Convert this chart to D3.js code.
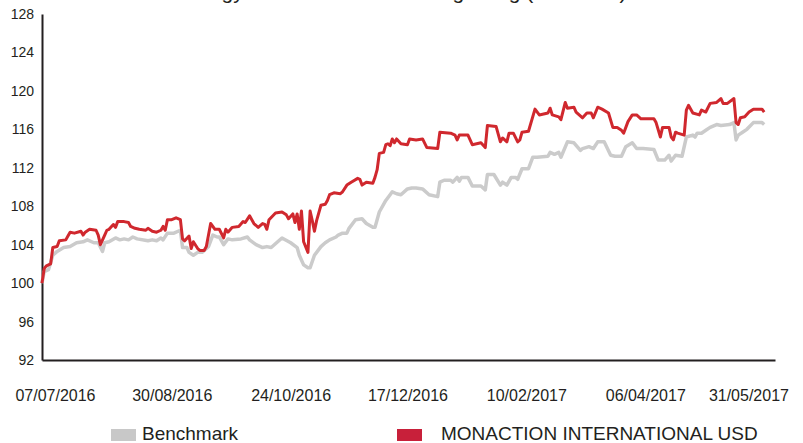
<!DOCTYPE html>
<html>
<head>
<meta charset="utf-8">
<script src="https://cdn.jsdelivr.net/npm/d3@7"></script>
<style>
  body { margin: 0; background: #fff; }
  svg { display: block; font-family: "Liberation Sans", Arial, sans-serif; }
</style>
</head>
<body>
<svg id="chart"></svg>
<script>
// chart values
const title = "Strategy evolution since the beginning (base 100)";
const seriesNames = ["Benchmark", "MONACTION INTERNATIONAL USD"];
const yTicks = [92, 96, 100, 104, 108, 112, 116, 120, 124, 128];
const xTickLabels = ["07/07/2016", "30/08/2016", "24/10/2016", "17/12/2016", "10/02/2017", "06/04/2017", "31/05/2017"];

const fundDates = [
  "2016-07-01","2016-07-02","2016-07-03","2016-07-05","2016-07-06","2016-07-08","2016-07-09","2016-07-12","2016-07-13","2016-07-14",
  "2016-07-16","2016-07-19","2016-07-20","2016-07-21","2016-07-23","2016-07-26","2016-07-27","2016-07-28","2016-07-30","2016-07-31",
  "2016-08-01","2016-08-03","2016-08-04","2016-08-05","2016-08-08","2016-08-10","2016-08-11","2016-08-13","2016-08-15","2016-08-18",
  "2016-08-19","2016-08-21","2016-08-23","2016-08-25","2016-08-26","2016-08-27","2016-08-28","2016-08-30","2016-09-01","2016-09-03",
  "2016-09-04","2016-09-05","2016-09-07","2016-09-08","2016-09-09","2016-09-11","2016-09-12","2016-09-14","2016-09-15","2016-09-17",
  "2016-09-19","2016-09-21","2016-09-23","2016-09-24","2016-09-25","2016-09-27","2016-09-30","2016-10-02","2016-10-03","2016-10-05",
  "2016-10-07","2016-10-09","2016-10-11","2016-10-12","2016-10-13","2016-10-14","2016-10-17","2016-10-20","2016-10-22","2016-10-23",
  "2016-10-25","2016-10-26","2016-10-27","2016-10-28","2016-10-29","2016-10-30","2016-11-01","2016-11-02","2016-11-03","2016-11-04",
  "2016-11-05","2016-11-07","2016-11-09","2016-11-10","2016-11-11","2016-11-13","2016-11-16","2016-11-17","2016-11-19","2016-11-21",
  "2016-11-24","2016-11-25","2016-11-26","2016-11-28","2016-12-01","2016-12-02","2016-12-03","2016-12-04","2016-12-06","2016-12-07",
  "2016-12-08","2016-12-09","2016-12-10","2016-12-11","2016-12-12","2016-12-14","2016-12-17","2016-12-18","2016-12-21","2016-12-24",
  "2016-12-26","2016-12-31","2017-01-01","2017-01-06","2017-01-08","2017-01-09","2017-01-10","2017-01-14","2017-01-16","2017-01-20",
  "2017-01-22","2017-01-23","2017-01-27","2017-01-29","2017-01-30","2017-02-01","2017-02-02","2017-02-04","2017-02-06","2017-02-07",
  "2017-02-08","2017-02-11","2017-02-14","2017-02-16","2017-02-20","2017-02-21","2017-02-22","2017-02-25","2017-02-26","2017-02-28",
  "2017-03-01","2017-03-04","2017-03-05","2017-03-08","2017-03-10","2017-03-12","2017-03-13","2017-03-15","2017-03-17","2017-03-20",
  "2017-03-22","2017-03-24","2017-03-26","2017-03-27","2017-03-29","2017-03-31","2017-04-02","2017-04-04","2017-04-10","2017-04-11",
  "2017-04-13","2017-04-14","2017-04-17","2017-04-18","2017-04-19","2017-04-20","2017-04-21","2017-04-24","2017-04-25","2017-04-26",
  "2017-04-28","2017-05-01","2017-05-02","2017-05-04","2017-05-06","2017-05-09","2017-05-11","2017-05-12","2017-05-14","2017-05-17",
  "2017-05-18","2017-05-19","2017-05-20","2017-05-22","2017-05-24","2017-05-26","2017-05-30","2017-05-31"
];
const fundValues = [
  100.0,101.5,101.8,102.0,103.7,103.8,104.4,104.5,104.9,105.3,
  105.2,105.4,105.0,105.3,105.6,105.5,105.0,104.0,105.0,105.5,
  105.6,106.1,105.8,106.4,106.4,106.3,105.9,105.7,105.6,105.5,
  105.7,105.4,105.3,105.5,105.9,105.5,106.6,106.6,106.8,106.6,
  104.6,104.4,104.9,103.6,104.3,103.6,103.4,103.4,103.8,106.2,
  105.6,105.6,104.7,105.6,105.3,105.8,105.9,106.4,106.3,107.0,
  106.2,105.8,106.2,106.1,105.6,106.6,107.3,107.4,107.1,106.7,
  107.2,106.3,107.2,105.6,107.5,104.3,103.2,107.5,106.5,105.4,
  106.5,108.1,108.2,108.6,109.2,109.4,109.3,109.5,110.2,110.5,
  110.9,110.8,110.2,110.5,110.4,111.0,111.8,113.5,113.6,114.4,
  114.5,114.3,115.0,114.6,115.0,114.5,114.4,115.0,114.9,115.0,
  114.1,114.0,115.7,115.6,115.4,114.9,115.4,115.4,114.4,114.6,
  114.1,116.4,116.3,114.7,115.1,114.7,115.6,115.6,114.7,114.9,
  115.7,115.8,118.1,117.5,117.7,118.2,117.5,117.3,117.0,118.8,
  118.2,118.3,117.8,117.2,117.7,117.7,117.2,118.3,118.1,117.7,
  116.2,116.2,115.9,115.6,116.8,117.5,117.5,117.1,117.1,116.7,
  115.2,116.2,116.2,115.2,114.9,115.7,115.6,115.4,118.0,118.5,
  117.7,117.5,118.0,117.8,118.7,118.8,119.2,118.7,118.7,119.2,
  116.7,116.5,117.2,117.3,117.8,118.1,118.1,117.8
];

const benchDates = [
  "2016-07-01","2016-07-02","2016-07-04","2016-07-06","2016-07-08","2016-07-11","2016-07-14","2016-07-17","2016-07-20","2016-07-22",
  "2016-07-25","2016-07-27","2016-07-29","2016-07-30","2016-08-01","2016-08-04","2016-08-06","2016-08-08","2016-08-10","2016-08-12",
  "2016-08-14","2016-08-19","2016-08-21","2016-08-23","2016-08-25","2016-08-26","2016-08-28","2016-08-31","2016-09-03","2016-09-04",
  "2016-09-06","2016-09-07","2016-09-09","2016-09-11","2016-09-13","2016-09-16","2016-09-18","2016-09-20","2016-09-21","2016-09-23",
  "2016-09-25","2016-09-27","2016-10-01","2016-10-04","2016-10-05","2016-10-08","2016-10-11","2016-10-13","2016-10-15","2016-10-18",
  "2016-10-20","2016-10-24","2016-10-27","2016-10-28","2016-10-30","2016-11-01","2016-11-02","2016-11-04","2016-11-07","2016-11-09",
  "2016-11-11","2016-11-14","2016-11-15","2016-11-17","2016-11-19","2016-11-20","2016-11-23","2016-11-26","2016-11-28","2016-12-01",
  "2016-12-02","2016-12-04","2016-12-07","2016-12-09","2016-12-10","2016-12-12","2016-12-14","2016-12-17","2016-12-19","2016-12-21",
  "2016-12-24","2016-12-27","2016-12-31","2017-01-01","2017-01-03","2017-01-06","2017-01-07","2017-01-09","2017-01-10","2017-01-11",
  "2017-01-14","2017-01-16","2017-01-20","2017-01-22","2017-01-23","2017-01-26","2017-01-29","2017-01-30","2017-02-01","2017-02-03",
  "2017-02-05","2017-02-06","2017-02-08","2017-02-11","2017-02-13","2017-02-15","2017-02-20","2017-02-21","2017-02-23","2017-02-25",
  "2017-02-26","2017-03-01","2017-03-04","2017-03-07","2017-03-08","2017-03-11","2017-03-13","2017-03-15","2017-03-18","2017-03-21",
  "2017-03-23","2017-03-26","2017-03-28","2017-03-31","2017-04-02","2017-04-05","2017-04-10","2017-04-12","2017-04-15","2017-04-17",
  "2017-04-18","2017-04-20","2017-04-23","2017-04-25","2017-04-28","2017-04-29","2017-04-30","2017-05-02","2017-05-04","2017-05-06",
  "2017-05-09","2017-05-11","2017-05-15","2017-05-17","2017-05-18","2017-05-19","2017-05-21","2017-05-23","2017-05-26","2017-05-30",
  "2017-05-31"
];
const benchValues = [
  100.0,101.2,101.4,102.9,103.3,103.7,103.8,104.2,104.3,104.5,
  104.2,104.2,103.3,104.2,104.3,104.7,104.5,104.6,104.5,104.8,
  104.6,104.4,104.5,104.4,104.7,104.5,105.2,105.2,105.5,103.7,
  103.7,103.2,102.9,103.2,103.2,103.8,105.0,104.8,104.8,104.0,
  104.6,104.5,104.6,104.8,104.5,104.0,103.7,103.8,103.7,104.3,
  104.7,104.2,103.7,102.9,101.9,101.6,101.6,102.9,103.8,104.2,
  104.5,104.8,105.0,105.2,105.2,105.7,106.6,106.7,106.2,105.8,
  105.8,107.4,108.6,109.2,109.5,109.3,109.2,109.8,109.9,109.9,
  109.8,109.2,109.0,110.5,110.7,110.7,110.5,111.0,110.6,111.0,
  111.0,110.1,110.1,109.7,111.3,111.3,110.2,110.5,110.2,111.0,
  111.0,110.8,111.9,111.9,113.1,113.1,113.2,113.6,113.4,113.6,
  113.1,114.7,114.6,113.8,114.0,114.2,114.0,114.7,114.7,113.3,
  113.2,113.2,114.2,114.6,114.0,114.0,113.9,112.8,112.8,113.3,
  112.7,113.3,113.2,115.2,115.4,115.2,115.6,115.6,115.9,116.2,
  116.5,116.4,116.5,116.7,114.9,115.4,115.7,116.0,116.7,116.7,
  116.5
];

const width = 803, height = 443;
const margin = { top: 14, right: 28, bottom: 83, left: 42 };
const innerW = width - margin.left - margin.right;
const innerH = height - margin.top - margin.bottom;

const parseDate = d3.timeParse("%Y-%m-%d");
const parseLabel = d3.timeParse("%d/%m/%Y");

const bench = benchDates.map((d, i) => ({ date: parseDate(d), value: benchValues[i] }));
const fund = fundDates.map((d, i) => ({ date: parseDate(d), value: fundValues[i] }));

const svg = d3.select("#chart").attr("width", width).attr("height", height);

// title sits mostly above the visible area, as in the reference
svg.append("text")
  .attr("x", 396)
  .attr("y", -1)
  .attr("text-anchor", "middle")
  .attr("font-size", 21)
  .attr("fill", "#231f20")
  .text(title);

const x = d3.scaleTime()
  .domain([parseDate("2016-07-01"), parseDate("2017-06-05")])
  .range([0, innerW]);
const y = d3.scaleLinear().domain([92, 128]).range([innerH, 0]);

const g = svg.append("g").attr("transform", `translate(${margin.left},${margin.top})`);

// y axis
const yAxis = g.append("g")
  .call(d3.axisLeft(y).tickValues(yTicks).tickSize(0).tickPadding(8).tickFormat(d3.format("d")));
yAxis.select(".domain").attr("stroke", "#231f20").attr("stroke-width", 2);
yAxis.selectAll("text").attr("font-size", 14).attr("fill", "#231f20")
  .attr("font-family", "Liberation Sans, Arial, sans-serif");

// x axis
const xAxis = g.append("g")
  .attr("transform", `translate(0,${innerH})`)
  .call(d3.axisBottom(x)
    .tickValues(xTickLabels.map(parseLabel))
    .tickSize(0)
    .tickPadding(30)
    .tickFormat(d3.timeFormat("%d/%m/%Y")));
xAxis.select(".domain").attr("stroke", "#231f20").attr("stroke-width", 2);
xAxis.selectAll("text").attr("font-size", 16).attr("fill", "#231f20")
  .attr("font-family", "Liberation Sans, Arial, sans-serif");

// keep labels inside the picture, like the original layout does
xAxis.selectAll(".tick").each(function () {
  const t = d3.select(this).select("text");
  const box = this.getBBox();
  const m = /translate\(([-\d.]+)/.exec(this.getAttribute("transform"));
  const tx = +m[1];
  const left = margin.left + tx - box.width / 2;
  const right = margin.left + tx + box.width / 2;
  if (right > width - 14) t.attr("dx", (width - 14) - right);
  if (left < 10) t.attr("dx", 10 - left);
});

const line = d3.line().x(d => x(d.date)).y(d => y(d.value));

g.append("path")
  .datum(bench)
  .attr("fill", "none")
  .attr("stroke", "#cbcbcb")
  .attr("stroke-width", 3.5)
  .attr("stroke-linejoin", "round")
  .attr("d", line);

g.append("path")
  .datum(fund)
  .attr("fill", "none")
  .attr("stroke", "#d0282e")
  .attr("stroke-width", 3)
  .attr("stroke-linejoin", "round")
  .attr("d", line);

// legend
const legendItems = [
  { name: seriesNames[0], color: "#c8c8c8", x: 111 },
  { name: seriesNames[1], color: "#c8203a", x: 397 }
];
const legend = svg.append("g").attr("transform", "translate(0,428)");
legendItems.forEach(item => {
  legend.append("rect")
    .attr("x", item.x).attr("y", 1)
    .attr("width", 25).attr("height", 12)
    .attr("fill", item.color);
  legend.append("text")
    .attr("x", item.x + (item.name === seriesNames[0] ? 31 : 44))
    .attr("y", 12)
    .attr("font-size", 19)
    .attr("fill", "#231f20")
    .text(item.name);
});
</script>
</body>
</html>
